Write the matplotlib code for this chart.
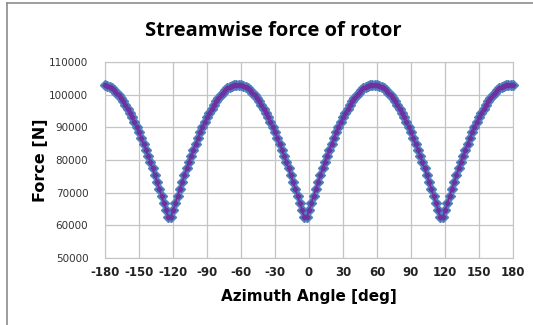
import numpy as np
import matplotlib
matplotlib.use('Agg')
from matplotlib import pyplot as plt
from matplotlib.lines import Line2D

plt.rcParams['axes.unicode_minus'] = False

# azimuth angle [deg], every 2 deg
angle = np.arange(-180, 181, 2)

# streamwise force [N]
force = [
    # -180 .. -124
    102900, 102700, 102300, 101900, 101300, 100600, 99900, 99000, 98000, 96900,
    95700, 94400, 93100, 91600, 90100, 88500, 86800, 85000, 83200, 81300,
    79400, 77400, 75300, 73200, 71100, 69000, 66800, 64600, 62400,
    # -122 .. -64
    62400, 64600, 66800, 69000, 71100, 73200, 75300, 77400, 79400, 81300,
    83200, 85000, 86800, 88500, 90100, 91600, 93100, 94400, 95700, 96900,
    98000, 99000, 99900, 100600, 101300, 101900, 102300, 102700, 102900, 103000,
    # -62 .. -4
    103000, 102900, 102700, 102300, 101900, 101300, 100600, 99900, 99000, 98000,
    96900, 95700, 94400, 93100, 91600, 90100, 88500, 86800, 85000, 83200,
    81300, 79400, 77400, 75300, 73200, 71100, 69000, 66800, 64600, 62400,
    # -2 .. 56
    62400, 64600, 66800, 69000, 71100, 73200, 75300, 77400, 79400, 81300,
    83200, 85000, 86800, 88500, 90100, 91600, 93100, 94400, 95700, 96900,
    98000, 99000, 99900, 100600, 101300, 101900, 102300, 102700, 102900, 103000,
    # 58 .. 116
    103000, 102900, 102700, 102300, 101900, 101300, 100600, 99900, 99000, 98000,
    96900, 95700, 94400, 93100, 91600, 90100, 88500, 86800, 85000, 83200,
    81300, 79400, 77400, 75300, 73200, 71100, 69000, 66800, 64600, 62400,
    # 118 .. 176
    62400, 64600, 66800, 69000, 71100, 73200, 75300, 77400, 79400, 81300,
    83200, 85000, 86800, 88500, 90100, 91600, 93100, 94400, 95700, 96900,
    98000, 99000, 99900, 100600, 101300, 101900, 102300, 102700, 102900, 103000,
    # 178, 180
    103100, 103100,
]

xticks = list(range(-180, 181, 30))
yticks = list(range(50000, 110001, 10000))

fig = plt.figure(figsize=(5.33, 3.25), dpi=100)
ax = fig.add_axes([105 / 533, 1 - 258 / 325, 408 / 533, 196 / 325])

ax.plot(angle, force, ls='none', marker='D', ms=5.5, color='#4f81bd',
        mec='#4f81bd', clip_on=False, zorder=3)
ax.plot(angle, force, ls='-', lw=1.2, color='#7030a0', marker='D', ms=2.5,
        clip_on=False, zorder=4)

ax.set_xlim(-180, 180)
ax.set_ylim(50000, 110000)
ax.set_xticks(xticks)
ax.set_yticks(yticks)
ax.grid(True, color='#c4c4c4', lw=0.9)
ax.set_axisbelow(True)
for s in ax.spines.values():
    s.set_color('#c4c4c4')
ax.tick_params(axis='x', length=0, pad=6)
ax.tick_params(axis='y', length=0, pad=12)
for lab in ax.get_xticklabels():
    lab.set_fontsize(8.5)
    lab.set_fontweight('bold')
    lab.set_color('#222222')
for lab in ax.get_yticklabels():
    lab.set_fontsize(7.5)
    lab.set_color('#333333')

ax.set_xlabel('Azimuth Angle [deg]', fontsize=11, fontweight='bold', labelpad=7)
ax.set_ylabel('Force [N]', fontsize=11.5, fontweight='bold', labelpad=1)
fig.text(0.512, 0.905, 'Streamwise force of rotor', ha='center', va='center',
         fontsize=14.5, fontweight='bold', family='Open Sans')

# chart border (left & top)
fig.add_artist(Line2D([7 / 533, 7 / 533], [0, 1 - 3 / 325], color='#8c8c8c', lw=1.2))
fig.add_artist(Line2D([7 / 533, 1], [1 - 3 / 325, 1 - 3 / 325], color='#8c8c8c', lw=1.2))

plt.savefig('out.png', dpi=100)
